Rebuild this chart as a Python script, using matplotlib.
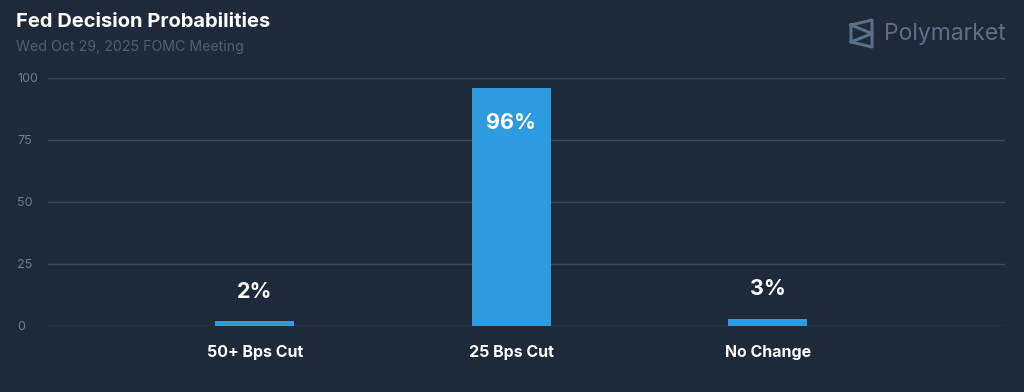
import matplotlib
matplotlib.use("Agg")
import matplotlib.pyplot as plt
from matplotlib.lines import Line2D

# Fed decision odds, FOMC meeting Oct 29 2025
categories = ['50+ Bps Cut', '25 Bps Cut', 'No Change']
probs = [2, 96, 3]
yticks = [0, 25, 50, 75, 100]

BG = '#1e2a3a'
BAR = '#2d9be0'
GRID = '#39495b'
TICK = '#6e7d8d'

plt.rcParams['font.family'] = ['Inter', 'DejaVu Sans']

fig = plt.figure(figsize=(10.24, 3.92), dpi=100, facecolor=BG)
ax = fig.add_axes([48/1024, 1 - 326/392, (1005-48)/1024, (326-78)/392])
ax.set_facecolor(BG)

x = list(range(len(categories)))
ax.bar(x, probs, width=0.308, color=BAR, zorder=3)

for xi, v in zip(x, probs):
    if v > 50:
        ax.text(xi, v - 14, f'{v}%', ha='center', va='center', color='white',
                fontsize=15.5, fontweight='bold', zorder=4)
    else:
        ax.text(xi, v + 11.8, f'{v}%', ha='center', va='center', color='white',
                fontsize=15.5, fontweight='bold', zorder=4)

ax.set_xlim(-0.807, 2.924)
ax.set_ylim(0, 100)
ax.set_yticks(yticks)
ax.set_yticklabels([str(t) for t in yticks], color=TICK, fontsize=9)
for lab in ax.get_yticklabels():
    lab.set_horizontalalignment('left')
ax.tick_params(axis='y', length=0, pad=22.3)
ax.set_xticks(x)
ax.set_xticklabels(categories, color='white', fontsize=11.5, fontweight='bold')
ax.tick_params(axis='x', length=0, pad=14)
ax.grid(axis='y', color=GRID, lw=1, zorder=0)
for s in ax.spines.values():
    s.set_visible(False)

fig.text(16/1024, 1 - 22/392, 'Fed Decision Probabilities', color='white',
         fontsize=14.5, fontweight='bold', va='center', ha='left')
fig.text(16/1024, 1 - 47/392, 'Wed Oct 29, 2025 FOMC Meeting', color='#4d6075',
         fontsize=10.2, va='center', ha='left')

# Polymarket logo
fig.text(884/1024, 1 - 34/392, 'Polymarket', color='#5b6f86', fontsize=16.5,
         va='center', ha='left')
lx = [851, 872, 872, 851, 851]
ly = [25, 20, 47, 42, 25]
fig.add_artist(Line2D([v/1024 for v in lx], [1 - v/392 for v in ly], color='#5b6f86', lw=2.2))
fig.add_artist(Line2D([851/1024, 872/1024, 851/1024], [1 - 25/392, 1 - 33.5/392, 1 - 42/392],
                      color='#5b6f86', lw=2.2))

fig.savefig('out.png', dpi=100, facecolor=BG)
